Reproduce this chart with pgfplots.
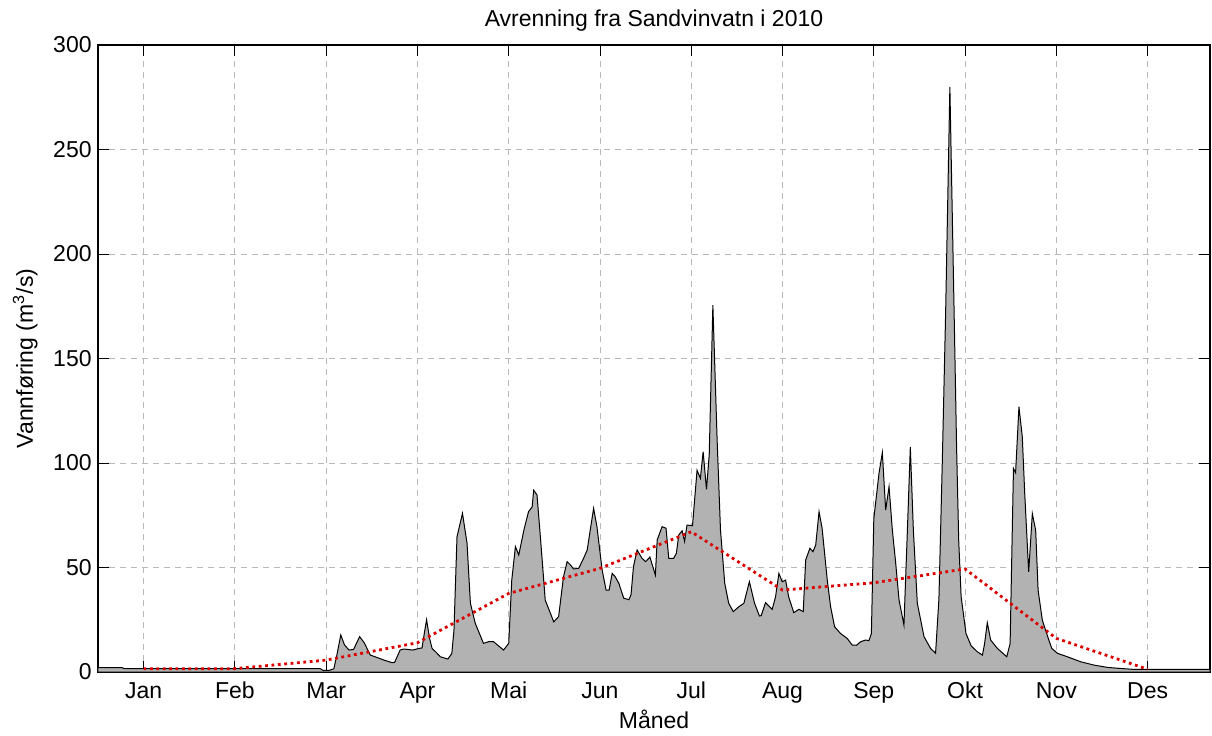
\documentclass[border=0pt]{standalone}
\usepackage{fontspec}
\setmainfont{Liberation Sans}
\usepackage{pgfplots}
\pgfplotsset{compat=1.18}

\definecolor{areagray}{rgb}{0.70,0.70,0.70}
\definecolor{meanred}{rgb}{0.86,0,0}
\definecolor{gridgray}{rgb}{0.72,0.72,0.72}

\begin{document}
\begin{tikzpicture}[font=\fontsize{11.5}{13.8}\selectfont]
\useasboundingbox (0,0) rectangle (606pt,367.5pt);
\begin{axis}[
    at={(49pt,31.5pt)}, anchor=south west,
    scale only axis, width=556pt, height=313.5pt,
    xmin=0, xmax=365.5, ymin=0, ymax=300,
    xtick={15,45,...,345},
    xticklabels={Jan,Feb,Mar,Apr,Mai,Jun,Jul,Aug,Sep,Okt,Nov,Des},
    ytick={0,50,...,300},
    tick align=inside, tick pos=both, major tick length=5.5pt,
    tick style={black, line width=0.5pt},
    grid=major,
    major grid style={gridgray, line width=0.5pt, dash pattern=on 3pt off 2.5pt},
    axis line style={line width=0.6pt},
    /pgf/number format/assume math mode=true,
    xticklabel style={anchor=base, yshift=-13.2pt},
    yticklabel style={inner sep=0pt, xshift=-3pt},
    title={Avrenning fra Sandvinvatn i 2010},
    title style={at={(axis description cs:0.5,1.0096)}, anchor=base},
    xlabel={Måned},
    xlabel style={at={(axis description cs:0.5,-0.0909)}, anchor=base},
    ylabel={Vannføring (m\textsuperscript{3}/s)},
    ylabel style={at={(axis description cs:-0.048,0.5)}, anchor=south, rotate=0},
  ]
  % daglig vannføring
  \addplot[draw=black, line width=0.5pt, fill=areagray] table {
    x y
    0 2.1
    8 2.1
    8.5 1.6
    73 1.6
    74 0.8
    76 0.8
    77.5 1.5
    78.5 8
    79.8 17.7
    81 13
    82.5 10.5
    84 10.8
    86 16.9
    87.5 14
    89.5 8.1
    92 6.8
    94 5.7
    96.6 4.5
    97.5 4.6
    99.3 10.5
    100.5 11
    103.5 10.5
    105.5 11.3
    106.5 11.5
    107.2 18
    108 25
    109 16
    109.8 11.3
    111.4 9
    112.5 7.3
    115 6.2
    116.3 8.9
    117 20
    118 64.7
    119.8 75.9
    121.3 61.6
    122.4 32.9
    124 23.3
    126.7 13.7
    128.4 14.5
    130 14.5
    133.3 10.5
    135 13.7
    136 44
    137.2 60
    138.3 56
    140 68
    141.5 76.7
    142.7 79
    143.2 87
    144.3 84.7
    145.4 64.7
    147 34.4
    149.8 24
    151.4 26.5
    153 45.6
    154.2 52.8
    155.3 51.2
    156.3 49.3
    158 49.6
    159.6 54.4
    160.8 58.4
    161.8 68
    162.9 78.3
    164 69.5
    165.7 48.8
    167 39.2
    168 39.2
    169 47.2
    170 45.6
    171.2 42.4
    172.8 35.3
    174.5 34.6
    175.2 37
    176 50.4
    177.2 58.4
    178.8 54.4
    180 52.8
    181.4 55
    183.2 46.4
    183.8 63.2
    185.4 69.5
    186.7 68.8
    187.6 54.4
    189.2 54.4
    190.1 56.8
    190.9 65.6
    192 67.6
    192.8 62.5
    193.6 70.3
    195.4 70
    196.9 96.5
    198 92.7
    198.9 105.4
    200 87.4
    200.9 104
    202.1 175.5
    203.5 111
    204.6 68
    206 42.4
    207.3 32.9
    208.8 28.9
    210.6 31.2
    212.3 32.9
    214.1 43.2
    215.8 32.9
    217.4 26.8
    218 27
    219.4 33.2
    221.6 30
    222.7 36
    223.8 47.2
    224.9 43.2
    226 44
    227 36
    228.7 28.4
    230.4 30
    231.8 28.9
    232.6 53.6
    234 59.2
    235 57.6
    235.9 60.8
    237 76.7
    238 68.8
    239.7 44
    240.8 31.2
    242.1 21.7
    244 18.5
    246.3 16
    247.9 12.9
    249.3 12.8
    250.7 14.5
    252.3 15.3
    253.4 15
    254.2 18.4
    255 73.4
    256.7 95
    257.8 105
    258.9 77.5
    260 88.7
    261.1 67.8
    262.2 52
    263.3 34.4
    264.9 22.5
    266 66.4
    267 107.7
    268 67.8
    269.3 32.9
    271.5 16.9
    273.7 11.2
    275.3 9
    276.4 35
    277.5 100
    278.6 171.6
    280 280
    281.4 171.6
    282.2 108
    282.9 63
    283.7 36
    285.3 18.4
    287 12.5
    289 9.7
    290.7 8.1
    291.4 13.5
    292.3 23.6
    293.4 15.3
    295.6 11.3
    297 9.5
    298.7 7.3
    299.8 13.7
    300.9 97.4
    301.6 95.4
    302.7 126.9
    303.8 112.6
    304.6 85.5
    305.9 47.9
    307.1 75.8
    308.2 67.8
    309 39.1
    310.4 24.7
    312.6 15
    313.5 11.3
    315.4 8.9
    318.6 7.3
    323 4.9
    327.4 3.3
    331.8 2.2
    336 1.7
    340 1.3
    365.5 1.3
  } \closedcycle;
  % månedsmiddel
  \addplot[meanred, line width=1.4pt, dash pattern=on 1.4pt off 1.8pt] table {
    x y
    15 1.6
    45 1.6
    75 5.7
    105 14
    135 37.6
    165 49.6
    195 67.1
    225 39.2
    255 42.7
    285 49.3
    315 16.1
    345 1.3
  };
\end{axis}
\end{tikzpicture}
\end{document}
